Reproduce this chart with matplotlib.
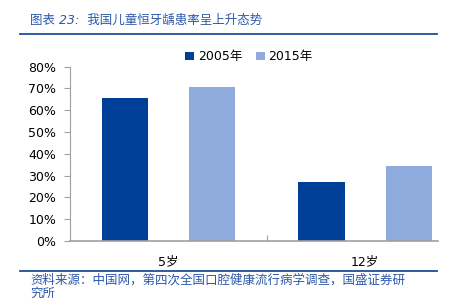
import numpy as np
import matplotlib
matplotlib.use("Agg")
import matplotlib.pyplot as plt

plt.rcParams['font.family'] = ['DejaVu Sans', 'Noto Sans CJK SC']

categories = ["5岁", "12岁"]
series_names = ["2005年", "2015年"]
values_2005 = [0.655, 0.269]
values_2015 = [0.707, 0.344]
colors = ["#003F97", "#8FAADC"]
yticks = [0, 0.1, 0.2, 0.3, 0.4, 0.5, 0.6, 0.7, 0.8]

title = "图表 23:  我国儿童恒牙龋患率呈上升态势"
source_1 = "资料来源：中国网，第四次全国口腔健康流行病学调查，国盛证券研"
source_2 = "究所"

fig = plt.figure(figsize=(4.52, 3.03), dpi=100)
ax = fig.add_axes([0.1549, 0.2046, 0.9684 - 0.1549, 0.7799 - 0.2046])

x = np.arange(len(categories))
w = 0.236
off = 0.222
ax.bar(x - off, values_2005, w, color=colors[0], label=series_names[0])
ax.bar(x + off, values_2015, w, color=colors[1], label=series_names[1])

ax.set_xlim(-0.5, 1.368)
ax.set_ylim(0, 0.8)
ax.set_yticks(yticks)
ax.set_yticklabels([f"{int(round(v * 100))}%" for v in yticks], fontsize=9)
ax.set_xticks([0.5])
ax.set_xticklabels([""])
ax.tick_params(axis="x", direction="in", length=4, color="#A0A0A0")
ax.tick_params(axis="y", direction="out", length=4, color="#A0A0A0", pad=5.8)
for side in ["top", "right"]:
    ax.spines[side].set_visible(False)
ax.spines["left"].set_color("#A0A0A0")
ax.spines["bottom"].set_color("#A0A0A0")
ax.spines["bottom"].set_linewidth(1.2)

# category labels under the groups
for xi, c in zip(x, categories):
    ax.text(xi, -0.095, c, ha="center", va="center", fontsize=9)

ax.legend(loc="center", bbox_to_anchor=(249 / 452, 1 - 57 / 303),
          bbox_transform=fig.transFigure, ncol=2, frameon=False,
          fontsize=9, handlelength=0.7, handleheight=0.7,
          handletextpad=0.3, columnspacing=1.1)

blue = "#2C58A8"
fig.text(30 / 452, 1 - 20 / 303, title, fontsize=9, color=blue,
         style="italic", va="center", ha="left")
fig.add_artist(plt.Line2D([20 / 452, 437 / 452], [1 - 34 / 303] * 2,
                          color="#1F4E9C", lw=1.3))
fig.add_artist(plt.Line2D([20 / 452, 437 / 452], [1 - 271 / 303] * 2,
                          color="#1F4E9C", lw=1.3))
fig.text(30 / 452, 1 - 280 / 303, source_1, fontsize=9, color=blue,
         style="italic", va="center", ha="left")
fig.text(30 / 452, 1 - 293 / 303, source_2, fontsize=9, color=blue,
         style="italic", va="center", ha="left")

fig.savefig("out.png", dpi=100)
